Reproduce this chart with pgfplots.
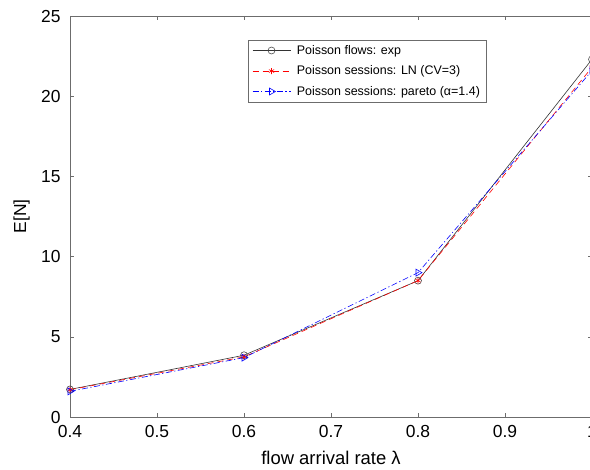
\documentclass[border=0pt]{standalone}
\usepackage{fontspec}
\setmainfont{Liberation Sans}
\usepackage{pgfplots}
\pgfplotsset{compat=1.18}
\begin{document}
\begin{tikzpicture}
\useasboundingbox (0,0) rectangle (590bp,470bp);
\begin{axis}[
  at={(70bp,53bp)}, anchor=south west,
  scale only axis, width=522bp, height=401bp,
  xmin=0.4, xmax=1, ymin=0, ymax=25,
  xtick={0.4,0.5,0.6,0.7,0.8,0.9,1},
  xticklabels={0.4,0.5,0.6,0.7,0.8,0.9,1},
  ytick={0,5,10,15,20,25},
  tick align=inside,
  axis line style={draw=gray!85!black, line width=0.6pt},
  tick style={draw=gray!85!black, line width=0.5pt},
  major tick length=4bp,
  ticklabel style={font=\fontsize{17.5}{19}\selectfont},
  xticklabel style={yshift=-5bp},
  yticklabel style={xshift=-6bp},
  /pgf/number format/assume math mode=true,
  xlabel={flow arrival rate λ},
  ylabel={E[N]},
  every axis x label/.style={at={(rel axis cs:0.5,0)}, anchor=center, yshift=-41bp, font=\fontsize{18.5}{20}\selectfont},
  every axis y label/.style={at={(rel axis cs:0,0.5)}, xshift=-48.5bp, rotate=90, anchor=center, font=\fontsize{17.5}{19}\selectfont},
  legend style={at={(rel axis cs:0.341,0.94)}, anchor=north west,
    draw=gray!85!black, font=\fontsize{12.5}{14}\selectfont,
    inner xsep=4bp, inner ysep=3bp, row sep=6bp, cells={anchor=west}},
  legend cell align=left,
  legend image code/.code={\draw[mark repeat=2,mark phase=2] plot coordinates {(0bp,0bp) (19bp,0bp) (38bp,0bp)};\path (42bp,0bp);},
]
\addplot[black!80, line width=0.6pt, mark=o, mark size=3.5bp, mark options={solid, draw=gray!60!black}]
  coordinates {(0.4,1.72) (0.6,3.85) (0.8,8.5) (1.0,22.3)};
\addlegendentry{Poisson flows: exp}
\addplot[red, line width=0.6pt, dash pattern=on 6bp off 4bp, mark=asterisk, mark size=3bp, mark options={solid}]
  coordinates {(0.4,1.7) (0.6,3.75) (0.8,8.5) (1.0,21.8)};
\addlegendentry{Poisson sessions: LN (CV=3)}
\addplot[blue, line width=0.6pt, dash pattern=on 6bp off 2.5bp on 1.2bp off 2.5bp, mark=triangle, mark size=4bp, mark options={solid, rotate=-90}]
  coordinates {(0.4,1.6) (0.6,3.7) (0.8,9.0) (1.0,21.6)};
\addlegendentry{Poisson sessions: pareto (α=1.4)}
\end{axis}
\end{tikzpicture}
\end{document}
